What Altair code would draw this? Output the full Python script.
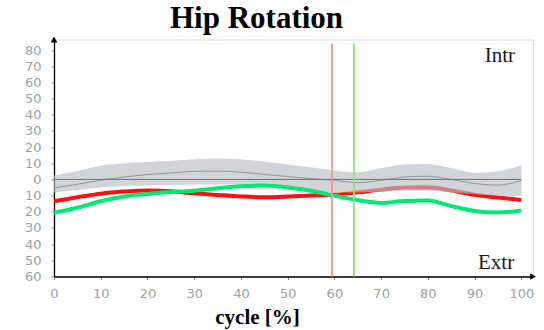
import altair as alt
import pandas as pd

# ---- data ----
cycle = [0, 5, 10, 15, 20, 25, 30, 35, 40, 45, 50, 55, 60, 65, 70, 75, 80, 85, 90, 95, 100]
red_curve = [-13.5, -11.0, -8.8, -7.5, -6.8, -7.3, -8.6, -9.6, -10.5, -11.0, -10.6, -9.9, -9.5,
             -8.0, -6.3, -5.0, -4.9, -6.8, -9.5, -11.2, -12.7]
green_curve = [-20.6, -17.5, -13.5, -10.5, -9.0, -7.8, -7.0, -5.5, -4.2, -3.8, -5.0, -7.0, -10.0,
               -12.8, -14.5, -13.3, -13.0, -16.5, -19.5, -20.5, -19.2]
band_hi = [2.5, 5.2, 8.5, 10.0, 10.8, 11.5, 12.5, 13.0, 12.5, 11.0, 9.3, 7.5, 5.5,
           4.3, 7.0, 9.3, 9.5, 7.0, 4.0, 5.0, 9.0]
band_lo = [-8.0, -6.5, -5.0, -4.0, -3.8, -3.5, -3.2, -3.1, -3.1, -3.2, -5.0, -6.5, -8.0,
           -8.0, -7.5, -7.0, -7.0, -8.0, -9.0, -10.0, -10.3]
band_mean = [-5.2, -3.0, -0.5, 1.5, 3.0, 4.0, 5.0, 5.2, 4.5, 3.1, 1.8, 0.5, -0.6,
             -2.0, -0.5, 1.5, 2.0, 0.0, -2.5, -3.5, -0.6]
event_x = [59.5, 64.2]
event_color = ["#f29494", "#8ee07a"]
event_top = 84
y_ticks = [-60, -50, -40, -30, -20, -10, 0, 10, 20, 30, 40, 50, 60, 70, 80]
x_ticks = [0, 10, 20, 30, 40, 50, 60, 70, 80, 90, 100]
x_max, y_min, y_max = 102.5, -60, 86.5
notes = ["Intr", "Extr"]
notes_x = [95.4, 94.6]
notes_y = [76.5, -51.8]

# ---- tables ----
band_df = pd.DataFrame({"x": cycle, "lo": band_lo, "hi": band_hi, "mean": band_mean})
red_df = pd.DataFrame({"x": cycle, "y": red_curve})
green_df = pd.DataFrame({"x": cycle, "y": green_curve})
ev_df = pd.DataFrame({"x": event_x, "y": [y_min] * 2, "y2": [event_top] * 2, "c": event_color})
zero_df = pd.DataFrame({"x": [cycle[0]], "x2": [cycle[-1]], "y": [0]})
arrow_df = pd.DataFrame({"x": [0, x_max], "y": [y_max, y_min],
                         "s": ["triangle-up", "triangle-right"]})
note_df = pd.DataFrame({"x": notes_x, "y": notes_y, "t": notes})

xscale = alt.Scale(domain=[0, x_max], nice=False, zero=False)
yscale = alt.Scale(domain=[y_min, y_max], nice=False, zero=False)

xaxis = alt.Axis(values=x_ticks, title="cycle [%]", grid=False,
                 domainColor="black", domainWidth=1.3, tickColor="#888", tickSize=3,
                 labelColor="#a0a0a0", labelFont="DejaVu Sans", labelFontSize=13,
                 labelPadding=8, labelFlush=False,
                 titleFont="Liberation Serif", titleFontSize=21, titleFontWeight="bold",
                 titleColor="black", titleX=203, titleY=47, titleAlign="center",
                 titleBaseline="alphabetic")
yaxis = alt.Axis(values=y_ticks, title=None, grid=False, labelExpr="abs(datum.value)",
                 domainColor="black", domainWidth=1.3, tickColor="#888", tickSize=3,
                 labelColor="#a0a0a0", labelFont="DejaVu Sans", labelFontSize=13,
                 labelPadding=10, labelFlush=False)

X = lambda f="x": alt.X(f"{f}:Q", scale=xscale, axis=xaxis)

red_line = alt.Chart(red_df).mark_line(color="#ff1010", strokeWidth=4, interpolate="monotone").encode(
    x=X(), y=alt.Y("y:Q", scale=yscale, axis=yaxis))
band = alt.Chart(band_df).mark_area(color="#b9bfc6", opacity=0.65, interpolate="monotone").encode(
    x=X(), y=alt.Y("lo:Q", scale=yscale, axis=yaxis), y2="hi:Q")
mean_line = alt.Chart(band_df).mark_line(color="#8f959c", strokeWidth=1, interpolate="monotone").encode(
    x=X(), y=alt.Y("mean:Q", scale=yscale, axis=yaxis))
zero_line = alt.Chart(zero_df).mark_rule(color="#6f7378", strokeWidth=1).encode(
    x=X(), x2="x2:Q", y=alt.Y("y:Q", scale=yscale, axis=yaxis))
green_line = alt.Chart(green_df).mark_line(color="#00e874", strokeWidth=4, interpolate="monotone").encode(
    x=X(), y=alt.Y("y:Q", scale=yscale, axis=yaxis))
events = alt.Chart(ev_df).mark_rule(strokeWidth=1.8).encode(
    x=X(), y=alt.Y("y:Q", scale=yscale, axis=yaxis), y2="y2:Q",
    color=alt.Color("c:N", scale=None))
arrows = alt.Chart(arrow_df).mark_point(filled=True, color="black", size=45, opacity=1).encode(
    x=X(), y=alt.Y("y:Q", scale=yscale, axis=yaxis), shape=alt.Shape("s:N", scale=None))
texts = alt.Chart(note_df).mark_text(font="Liberation Serif", fontSize=21, color="#1a1a1a").encode(
    x=X(), y=alt.Y("y:Q", scale=yscale, axis=yaxis), text="t:N")

chart = alt.layer(red_line, band, mean_line, zero_line, green_line, events, arrows, texts).properties(
    width=479, height=237,
    autosize="none",
    padding={"left": 54, "top": 39.5, "right": 11, "bottom": 53.5},
    title=alt.TitleParams("Hip Rotation", font="Liberation Serif", fontSize=31,
                          fontWeight="bold", color="black", anchor="middle", dx=-37, offset=2),
).configure_view(stroke=None).configure(background="white")

chart.save("out.html", embed_options={"renderer": "svg", "actions": False})
